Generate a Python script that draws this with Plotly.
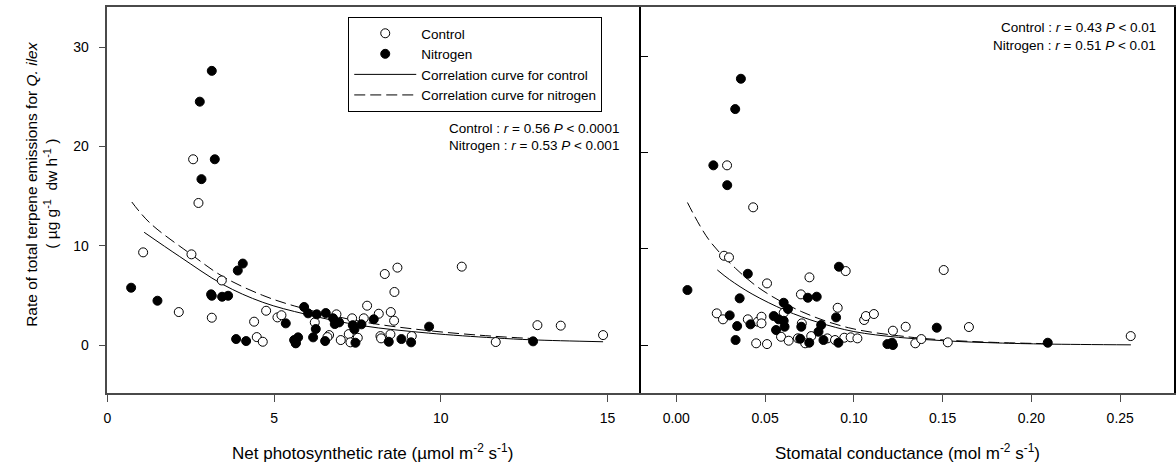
import plotly.graph_objects as go

# ---------------- data ----------------
# Left panel: net photosynthetic rate vs terpene emission
a_ctrl_x = [2.57, 2.73, 1.07, 2.52, 3.43, 2.14, 3.13, 4.76, 5.10, 5.22, 4.40, 4.48, 4.66,
            6.22, 6.87, 6.65, 6.60, 7.00, 7.34, 7.69, 7.79, 7.24, 7.29, 7.51, 8.14, 8.32,
            8.70, 8.61, 8.50, 8.60, 10.63, 8.19, 8.21, 8.49, 9.13, 11.65, 12.90, 13.60,
            14.87, 5.65]
a_ctrl_y = [18.7, 14.3, 9.33, 9.13, 6.5, 3.32, 2.75, 3.45, 2.78, 3.0, 2.35, 0.8, 0.33,
            2.28, 3.09, 1.0, 0.8, 0.5, 2.69, 2.69, 3.96, 1.1, 0.27, 0.73, 3.15, 7.15,
            7.79, 5.34, 3.32, 2.45, 7.89, 0.9, 0.67, 1.08, 0.9, 0.3, 2.0, 1.95,
            1.0, 0.2]
a_nitr_x = [3.13, 2.77, 3.22, 2.82, 4.06, 3.91, 0.71, 3.11, 3.13, 3.44, 3.62, 1.50, 5.35,
            3.86, 4.16, 5.60, 5.65, 5.72, 5.90, 6.02, 6.28, 6.55, 6.25, 6.17, 6.53, 6.77,
            6.82, 6.95, 7.36, 7.41, 7.62, 7.44, 7.99, 8.44, 8.82, 9.11, 9.65, 12.77]
a_nitr_y = [27.6, 24.5, 18.7, 16.7, 8.2, 7.5, 5.77, 5.1, 4.96, 4.86, 4.96, 4.46, 2.18,
            0.6, 0.4, 0.5, 0.17, 0.77, 3.83, 3.19, 3.09, 3.22, 1.61, 0.77, 0.4, 2.69,
            2.11, 2.28, 2.0, 1.58, 2.08, 0.23, 2.59, 0.33, 0.6, 0.27, 1.85, 0.37]
# correlation curves
a_fit_ctrl_x = [1.10, 2.17, 3.46, 4.66, 5.95, 7.64, 9.63, 11.60, 12.77, 14.87]
a_fit_ctrl_y = [11.35, 8.9, 6.1, 4.3, 3.1, 1.95, 1.2, 0.72, 0.52, 0.33]
a_fit_nitr_x = [0.73, 1.27, 2.52, 3.46, 4.66, 5.75, 7.64, 9.63, 11.60, 12.77]
a_fit_nitr_y = [14.4, 12.3, 9.1, 6.9, 5.0, 3.8, 2.35, 1.45, 0.88, 0.65]

# Right panel: stomatal conductance vs terpene emission
g_ctrl_x = [0.0286, 0.0433, 0.0269, 0.0297, 0.0511, 0.0750, 0.0954, 0.0702, 0.0909, 0.0228,
            0.0263, 0.0403, 0.0459, 0.0480, 0.0480, 0.0450, 0.0511, 0.0605, 0.0590, 0.0633,
            0.0707, 0.0685, 0.0760, 0.0726, 0.0851, 0.0894, 0.0946, 0.0982, 0.1020, 0.1058,
            0.1068, 0.1113, 0.1220, 0.1292, 0.1506, 0.1648, 0.1346, 0.1380, 0.1529, 0.2559]
g_ctrl_y = [18.66, 14.3, 9.27, 9.1, 6.4, 7.03, 7.68, 5.26, 3.87, 3.29,
            2.67, 2.67, 2.42, 2.94, 2.25, 0.18, 0.1, 3.35, 0.86, 0.45,
            2.25, 0.7, 0.93, 0.18, 0.69, 0.52, 0.76, 0.8, 0.69, 2.6,
            3.01, 3.22, 1.49, 1.9, 7.79, 1.87, 0.18, 0.62, 0.28, 0.93]
g_nitr_x = [0.0364, 0.0332, 0.0209, 0.0287, 0.0403, 0.0916, 0.0063, 0.0357, 0.0741, 0.0791,
            0.0605, 0.0629, 0.0900, 0.0301, 0.0343, 0.0334, 0.0418, 0.0549, 0.0577, 0.0605,
            0.0562, 0.0610, 0.0704, 0.0698, 0.0749, 0.0801, 0.0816, 0.0829, 0.0913, 0.1189,
            0.1215, 0.1220, 0.1467, 0.2092]
g_nitr_y = [27.65, 24.5, 18.66, 16.6, 7.4, 8.13, 5.71, 4.85, 4.91, 5.02,
            4.39, 3.74, 2.87, 3.08, 1.97, 0.52, 2.15, 3.01, 2.67, 2.52,
            1.56, 1.9, 1.9, 0.65, 0.24, 1.38, 2.08, 0.52, 0.24, 0.1,
            0.24, 0.0, 1.8, 0.24]
g_fit_ctrl_x = [0.0231, 0.0300, 0.0427, 0.0614, 0.0800, 0.1000, 0.1250, 0.1530, 0.1800, 0.2090, 0.2560]
g_fit_ctrl_y = [7.8, 6.8, 5.3, 3.6, 2.35, 1.4, 0.8, 0.42, 0.22, 0.1, 0.02]
g_fit_nitr_x = [0.0063, 0.0185, 0.0334, 0.0483, 0.0707, 0.0969, 0.1300, 0.1530, 0.1800, 0.2090]
g_fit_nitr_y = [14.8, 10.9, 7.96, 5.71, 3.46, 1.8, 0.86, 0.5, 0.27, 0.14]

legend_names = ["Control", "Nitrogen", "Correlation curve for control", "Correlation curve for nitrogen"]
stats_left = ["Control : <i>r</i> = 0.56 <i>P</i> < 0.0001", "Nitrogen : <i>r</i> = 0.53 <i>P</i> < 0.001"]
stats_right = ["Control : <i>r</i> = 0.43 <i>P</i> < 0.01", "Nitrogen : <i>r</i> = 0.51 <i>P</i> < 0.01"]

# ---------------- figure ----------------
W, H = 1176, 471
FONT = "Liberation Sans, Arial, sans-serif"
fig = go.Figure()

open_marker = dict(symbol="circle", size=9, color="white", line=dict(color="black", width=1))
filled_marker = dict(symbol="circle", size=9, color="black", line=dict(color="black", width=1))
dash_style = "11px,5px"

# left panel
fig.add_trace(go.Scatter(x=a_fit_ctrl_x, y=a_fit_ctrl_y, mode="lines", name=legend_names[2],
                         line=dict(color="black", width=1, shape="spline"), xaxis="x", yaxis="y",
                         legendrank=3))
fig.add_trace(go.Scatter(x=a_fit_nitr_x, y=a_fit_nitr_y, mode="lines", name=legend_names[3],
                         line=dict(color="black", width=1, dash=dash_style, shape="spline"),
                         xaxis="x", yaxis="y", legendrank=4))
fig.add_trace(go.Scatter(x=a_ctrl_x, y=a_ctrl_y, mode="markers", name=legend_names[0],
                         marker=open_marker, xaxis="x", yaxis="y", legendrank=1))
fig.add_trace(go.Scatter(x=a_nitr_x, y=a_nitr_y, mode="markers", name=legend_names[1],
                         marker=filled_marker, xaxis="x", yaxis="y", legendrank=2))
# right panel
fig.add_trace(go.Scatter(x=g_fit_ctrl_x, y=g_fit_ctrl_y, mode="lines", showlegend=False,
                         line=dict(color="black", width=1, shape="spline"), xaxis="x2", yaxis="y2"))
fig.add_trace(go.Scatter(x=g_fit_nitr_x, y=g_fit_nitr_y, mode="lines", showlegend=False,
                         line=dict(color="black", width=1, dash=dash_style, shape="spline"),
                         xaxis="x2", yaxis="y2"))
fig.add_trace(go.Scatter(x=g_ctrl_x, y=g_ctrl_y, mode="markers", showlegend=False,
                         marker=open_marker, xaxis="x2", yaxis="y2"))
fig.add_trace(go.Scatter(x=g_nitr_x, y=g_nitr_y, mode="markers", showlegend=False,
                         marker=filled_marker, xaxis="x2", yaxis="y2"))

ydom = [(H - 393) / H, (H - 7) / H]
axcol = "#4a4a4a"
tickfont = dict(family=FONT, size=14, color="black")

fig.update_layout(
    width=W, height=H, margin=dict(l=0, r=0, t=0, b=0),
    paper_bgcolor="white", plot_bgcolor="white",
    font=dict(family=FONT, color="black"),
    xaxis=dict(domain=[104 / W, 640 / W], range=[0, 16], tickvals=[0, 5, 10, 15],
               ticks="outside", ticklen=7, tickcolor=axcol, showline=True, linecolor=axcol,
               linewidth=1.5, mirror=True, showgrid=False, zeroline=False, tickfont=tickfont,
               ticklabelstandoff=4, anchor="y"),
    yaxis=dict(domain=ydom, range=[-4.83, 34.03], tickvals=[0, 10, 20, 30],
               ticks="outside", ticklen=7, tickcolor=axcol, showline=True, linecolor=axcol,
               linewidth=1.5, showgrid=False, zeroline=False, tickfont=tickfont,
               ticklabelstandoff=7, anchor="x"),
    xaxis2=dict(domain=[640 / W, 1175.5 / W], range=[-0.02, 0.28],
                tickvals=[0, 0.05, 0.10, 0.15, 0.20, 0.25], tickformat=".2f",
                ticks="outside", ticklen=7, tickcolor=axcol, showline=True, linecolor=axcol,
                linewidth=1.5, mirror=True, showgrid=False, zeroline=False, tickfont=tickfont,
                ticklabelstandoff=4, anchor="y2"),
    yaxis2=dict(domain=ydom, range=[-4.98, 35.1], tickvals=[0, 10, 20, 30],
                showticklabels=False, ticks="inside", ticklen=7, tickcolor="black",
                showline=True, linecolor="black", linewidth=2.2, mirror=True,
                showgrid=False, zeroline=False, anchor="x2"),
    legend=dict(x=346 / W, y=(H - 17) / H, xanchor="left", yanchor="top",
                bordercolor="black", borderwidth=1, bgcolor="white",
                font=dict(family=FONT, size=13.5, color="black"),
                itemwidth=62, tracegroupgap=0, traceorder="normal"),
    showlegend=True,
)

ann_font = dict(family=FONT, size=13.5, color="black")
annotations = [
    dict(text=stats_left[0], x=620 / W, y=(H - 128) / H, xanchor="right", yanchor="middle"),
    dict(text=stats_left[1], x=620 / W, y=(H - 145) / H, xanchor="right", yanchor="middle"),
    dict(text=stats_right[0], x=1160 / W, y=(H - 28) / H, xanchor="right", yanchor="middle"),
    dict(text=stats_right[1], x=1160 / W, y=(H - 46) / H, xanchor="right", yanchor="middle"),
]
for a in annotations:
    fig.add_annotation(xref="paper", yref="paper", showarrow=False, font=ann_font, **a)

title_font = dict(family=FONT, size=17, color="black")
ytitle_font = dict(family=FONT, size=15.5, color="black")
fig.add_annotation(xref="paper", yref="paper", x=370 / W, y=(H - 452) / H, showarrow=False,
                   text="Net photosynthetic rate (µmol m<sup>-2</sup> s<sup>-1</sup>)",
                   xanchor="center", yanchor="middle", font=title_font)
fig.add_annotation(xref="paper", yref="paper", x=908 / W, y=(H - 452) / H, showarrow=False,
                   text="Stomatal conductance (mol m<sup>-2</sup> s<sup>-1</sup>)",
                   xanchor="center", yanchor="middle", font=title_font)
fig.add_annotation(xref="paper", yref="paper", x=27 / W, y=(H - 184) / H, showarrow=False,
                   text="Rate of total terpene emissions for <i>Q. ilex</i>", textangle=-90,
                   xanchor="center", yanchor="middle", font=ytitle_font)
fig.add_annotation(xref="paper", yref="paper", x=47 / W, y=(H - 194) / H, showarrow=False,
                   text="( µg g<sup>-1</sup>  dw h<sup>-1</sup> )", textangle=-90,
                   xanchor="center", yanchor="middle", font=ytitle_font)

fig.write_html("out.html")
